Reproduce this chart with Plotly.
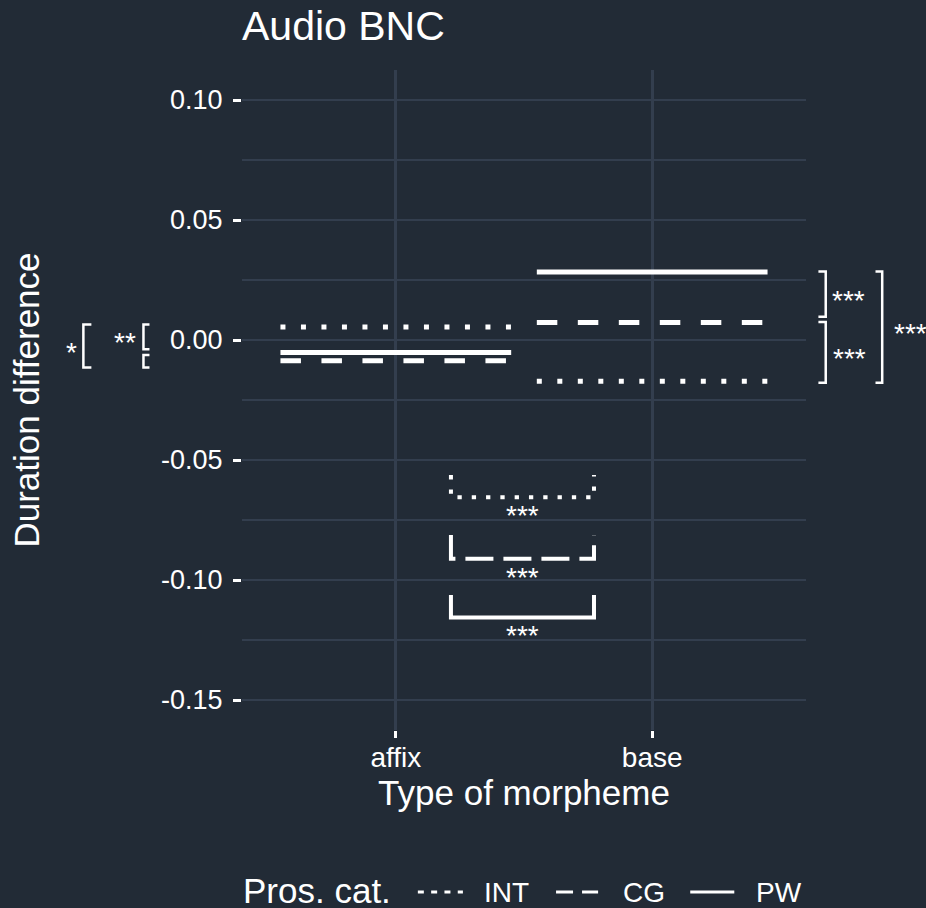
import plotly.graph_objects as go

# ---- data -------------------------------------------------------------
morpheme_types = ["affix", "base"]
pros_cats = ["INT", "CG", "PW"]

# mean duration difference for each prosodic category, per morpheme type
int_means = [0.0054, -0.0172]
cg_means = [-0.0086, 0.0073]
pw_means = [-0.0052, 0.0283]

y_tickvals = [-0.15, -0.10, -0.05, 0.0, 0.05, 0.10]
y_ticktext = ["-0.15", "-0.10", "-0.05", "0.00", "0.05", "0.10"]

# within-affix comparisons drawn left of the axis: lower end, upper end, label
affix_br_lo = [-0.0115, -0.0039, -0.0115]
affix_br_hi = [0.0065, 0.0065, -0.0063]
affix_br_lab = ["*", "**", ""]

# within-base comparisons drawn right of the panel
base_br_lo = [0.0097, -0.0178, -0.0178]
base_br_hi = [0.0285, 0.0075, 0.0285]
base_br_lab = ["***", "***", "***"]

# affix vs base comparison for each prosodic category: arm top, floor, label
cmp_top = [-0.0563, -0.0813, -0.1063]
cmp_floor = [-0.0655, -0.0911, -0.1156]
cmp_lab = ["***", "***", "***"]

# ---- styling ------------------------------------------------------------
BG = "#222b36"
GRID = "#333e4e"
WHITE = "#ffffff"
FONT = "Liberation Sans, Arial, Helvetica, sans-serif"

W, H = 926, 908
ML, MR, MT, MB = 242.4, 120.4, 70, 178
PLOT_W = W - ML - MR
PLOT_H = H - MT - MB


def px_x(px):
    return (px - ML) / PLOT_W


def px_y(py):
    return (H - MB - py) / PLOT_H


seg_dash = {"INT": "5px,15.5px", "CG": "20.5px,20.5px", "PW": "solid"}
cmp_dash = {"INT": "4.3px,10px", "CG": "28px,10px", "PW": "solid"}
key_dash = {"INT": "6px,7.3px", "CG": "17px,9px", "PW": "solid"}
HALF = 0.45          # half width of each mean segment (category units)
CMP_X = (0.215, 0.773)

series = {"INT": int_means, "CG": cg_means, "PW": pw_means}

fig = go.Figure()

# mean segments
for cat in pros_cats:
    for i, v in enumerate(series[cat]):
        fig.add_trace(go.Scatter(
            x=[i - HALF, i + HALF], y=[v, v], mode="lines",
            line=dict(color=WHITE, width=5, dash=seg_dash[cat]),
            name=cat, legendgroup=cat, showlegend=False, hoverinfo="skip",
        ))

shapes = []
annotations = []


def side_bracket(lo, hi, x_vert, x_tick, width=2.5):
    shapes.append(dict(
        type="path", xref="paper", yref="y",
        path=f"M {x_tick},{hi} L {x_vert},{hi} L {x_vert},{lo} L {x_tick},{lo}",
        line=dict(color=WHITE, width=width),
    ))


# left-hand brackets (affix)
left_cols = [(84, 92, 80), (144, 150, 139), (144, 150, 139)]
for lo, hi, lab, (xv, xt, xl) in zip(affix_br_lo, affix_br_hi, affix_br_lab, left_cols):
    side_bracket(lo, hi, px_x(xv), px_x(xt))
    if lab:
        annotations.append(dict(
            x=px_x(xl), xref="paper", y=(lo + hi) / 2, yref="y",
            text=lab, showarrow=False, xanchor="right", yanchor="middle",
            yshift=-6, font=dict(size=28, color=WHITE, family=FONT),
        ))

# right-hand brackets (base)
right_cols = [(825.3, 818, 830), (825.3, 818, 831), (881.7, 875, 891)]
for lo, hi, lab, (xv, xt, xl) in zip(base_br_lo, base_br_hi, base_br_lab, right_cols):
    side_bracket(lo, hi, px_x(xv), px_x(xt))
    annotations.append(dict(
        x=px_x(xl), xref="paper", y=(lo + hi) / 2, yref="y",
        text=lab, showarrow=False, xanchor="left", yanchor="middle",
        yshift=-6, font=dict(size=28, color=WHITE, family=FONT),
    ))

# affix vs base brackets below the segments
for cat, top, floor, lab in zip(pros_cats, cmp_top, cmp_floor, cmp_lab):
    x0, x1 = CMP_X
    shapes.append(dict(
        type="path", xref="x", yref="y",
        path=f"M {x0},{top} L {x0},{floor} L {x1},{floor} L {x1},{top}",
        line=dict(color=WHITE, width=4, dash=cmp_dash[cat]),
    ))
    annotations.append(dict(
        x=(x0 + x1) / 2, xref="x", y=floor, yref="y", text=lab,
        showarrow=False, xanchor="center", yanchor="middle", yshift=-18.5,
        font=dict(size=28, color=WHITE, family=FONT),
    ))

# legend row
LEG_Y = 892
annotations.append(dict(
    x=px_x(242.5), xref="paper", y=px_y(890), yref="paper", text="Pros. cat.",
    showarrow=False, xanchor="left", yanchor="middle", borderpad=0,
    font=dict(size=35, color=WHITE, family=FONT),
))
key_pos = {"INT": (418, 463, 483.5), "CG": (556, 598, 621.5), "PW": (690, 734, 755)}
for cat in pros_cats:
    k0, k1, tx = key_pos[cat]
    shapes.append(dict(
        type="line", xref="paper", yref="paper",
        x0=px_x(k0), x1=px_x(k1), y0=px_y(LEG_Y), y1=px_y(LEG_Y),
        line=dict(color=WHITE, width=3, dash=key_dash[cat]),
    ))
    annotations.append(dict(
        x=px_x(tx), xref="paper", y=px_y(LEG_Y), yref="paper", text=cat,
        showarrow=False, xanchor="left", yanchor="middle", borderpad=0,
        font=dict(size=28, color=WHITE, family=FONT),
    ))

fig.update_layout(
    width=W, height=H,
    margin=dict(l=ML, r=MR, t=MT, b=MB, pad=0),
    paper_bgcolor=BG, plot_bgcolor=BG,
    font=dict(family=FONT, color=WHITE),
    title=dict(
        text="Audio BNC", x=0, xref="paper", xanchor="left",
        y=1 - 26 / H, yref="container", yanchor="middle",
        font=dict(size=41, color=WHITE, family=FONT),
    ),
    showlegend=False,
    shapes=shapes,
    annotations=annotations,
    xaxis=dict(
        range=[-0.6, 1.6], tickmode="array", tickvals=[0, 1],
        ticktext=morpheme_types, ticks="outside", ticklen=7, tickwidth=2.5,
        tickcolor=WHITE, showgrid=True, gridcolor=GRID, gridwidth=2.5,
        zeroline=False, showline=False, fixedrange=True,
        ticklabelstandoff=-5,
        tickfont=dict(size=28, color=WHITE, family=FONT),
        title=dict(text="Type of morpheme", standoff=8,
                   font=dict(size=35, color=WHITE, family=FONT)),
    ),
    yaxis=dict(
        range=[-0.1625, 0.1125], tickmode="array", tickvals=y_tickvals,
        ticktext=y_ticktext, ticks="outside", ticklen=8, tickwidth=2.5,
        tickcolor=WHITE, showgrid=True, gridcolor=GRID, gridwidth=2.3,
        zeroline=False, showline=False, fixedrange=True,
        ticklabelstandoff=5,
        minor=dict(dtick=0.025, tick0=0, showgrid=True, gridcolor=GRID,
                   gridwidth=2.3),
        tickfont=dict(size=27, color=WHITE, family=FONT),
        title=dict(text="Duration difference", standoff=110,
                   font=dict(size=35, color=WHITE, family=FONT)),
    ),
)

fig.write_html("out.html", config={"displayModeBar": False})
